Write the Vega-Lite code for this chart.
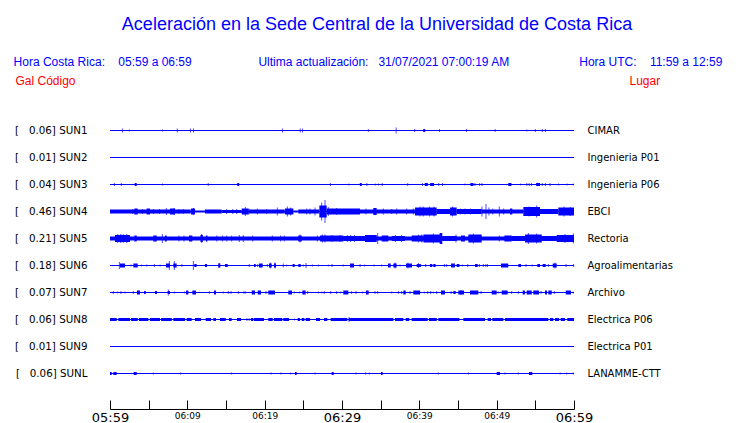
{
  "$schema": "https://vega.github.io/schema/vega-lite/v6.json",
  "width": 464,
  "height": 270,
  "autosize": "none",
  "padding": {"left": 110, "top": 117, "right": 166, "bottom": 36},
  "background": "white",
  "config": {"view": {"stroke": null}},
  "title": {
    "text": "Aceleración en la Sede Central de la Universidad de Costa Rica",
    "subtitle": "Hora Costa Rica:\u00a0\u00a0\u00a0\u00a005:59 a 06:59\u00a0\u00a0\u00a0\u00a0\u00a0\u00a0\u00a0\u00a0\u00a0\u00a0\u00a0\u00a0\u00a0\u00a0\u00a0\u00a0\u00a0\u00a0\u00a0\u00a0Ultima actualización:\u00a0\u00a0\u00a031/07/2021 07:00:19 AM\u00a0\u00a0\u00a0\u00a0\u00a0\u00a0\u00a0\u00a0\u00a0\u00a0\u00a0\u00a0\u00a0\u00a0\u00a0\u00a0\u00a0\u00a0\u00a0\u00a0\u00a0Hora UTC:\u00a0\u00a0\u00a0\u00a011:59 a 12:59\u2800\u2800",
    "anchor": "middle",
    "frame": "group",
    "dx": 35,
    "font": "Liberation Sans",
    "fontSize": 18,
    "fontWeight": "normal",
    "color": "#0000ff",
    "subtitleFont": "Liberation Sans",
    "subtitleFontSize": 12,
    "subtitleColor": "#0000ff",
    "subtitlePadding": 23,
    "offset": 6
  },
  "datasets": {
    "stations": [
      {"s": "SUN1", "gal": 0.06, "lugar": "CIMAR"},
      {"s": "SUN2", "gal": 0.01, "lugar": "Ingenieria P01"},
      {"s": "SUN3", "gal": 0.04, "lugar": "Ingenieria P06"},
      {"s": "SUN4", "gal": 0.46, "lugar": "EBCI"},
      {"s": "SUN5", "gal": 0.21, "lugar": "Rectoria"},
      {"s": "SUN6", "gal": 0.18, "lugar": "Agroalimentarias"},
      {"s": "SUN7", "gal": 0.07, "lugar": "Archivo"},
      {"s": "SUN8", "gal": 0.06, "lugar": "Electrica P06"},
      {"s": "SUN9", "gal": 0.01, "lugar": "Electrica P01"},
      {"s": "SUNL", "gal": 0.06, "lugar": "LANAMME-CTT"}
    ],
    "bursts": [
      {"s":"SUN1","t0":40.5,"t1":40.75,"amp":3},
      {"s":"SUN3","t0":3.2,"t1":3.45,"amp":3},{"s":"SUN3","t0":16.45,"t1":16.7,"amp":3},{"s":"SUN3","t0":32.3,"t1":32.55,"amp":3},{"s":"SUN3","t0":40.7,"t1":41.1,"amp":3},{"s":"SUN3","t0":41.4,"t1":41.9,"amp":3},{"s":"SUN3","t0":46.6,"t1":47.0,"amp":3},{"s":"SUN3","t0":51.5,"t1":51.9,"amp":3},{"s":"SUN3","t0":55.1,"t1":55.6,"amp":3},
      {"s":"SUN4","t0":0,"t1":10.45,"amp":4},{"s":"SUN4","t0":3.15,"t1":3.58,"amp":6},{"s":"SUN4","t0":4.74,"t1":5.17,"amp":6},{"s":"SUN4","t0":7.76,"t1":8.4,"amp":6},{"s":"SUN4","t0":10.48,"t1":10.99,"amp":6},{"s":"SUN4","t0":10.99,"t1":12.28,"amp":2},{"s":"SUN4","t0":12.28,"t1":14.44,"amp":4},{"s":"SUN4","t0":14.44,"t1":17.03,"amp":3},{"s":"SUN4","t0":17.03,"t1":17.89,"amp":6},{"s":"SUN4","t0":17.89,"t1":22.6,"amp":4},{"s":"SUN4","t0":22.63,"t1":23.71,"amp":6},{"s":"SUN4","t0":23.71,"t1":24.35,"amp":2},{"s":"SUN4","t0":24.35,"t1":27.07,"amp":4},{"s":"SUN4","t0":27.07,"t1":28.02,"amp":12},{"s":"SUN4","t0":28.02,"t1":32.33,"amp":6},{"s":"SUN4","t0":32.33,"t1":39.44,"amp":4},{"s":"SUN4","t0":34.05,"t1":34.48,"amp":7},{"s":"SUN4","t0":39.44,"t1":42.25,"amp":8},{"s":"SUN4","t0":42.25,"t1":43.97,"amp":5},{"s":"SUN4","t0":43.97,"t1":44.83,"amp":8},{"s":"SUN4","t0":44.83,"t1":48.06,"amp":5},{"s":"SUN4","t0":48.06,"t1":53.45,"amp":4},{"s":"SUN4","t0":51.72,"t1":52.02,"amp":6},{"s":"SUN4","t0":53.45,"t1":55.6,"amp":9},{"s":"SUN4","t0":55.6,"t1":57.97,"amp":5},{"s":"SUN4","t0":57.97,"t1":60,"amp":8},
      {"s":"SUN5","t0":0,"t1":60,"amp":4},{"s":"SUN5","t0":0.65,"t1":2.59,"amp":7},{"s":"SUN5","t0":3.15,"t1":3.45,"amp":6},{"s":"SUN5","t0":5.6,"t1":6.04,"amp":6},{"s":"SUN5","t0":7.11,"t1":7.33,"amp":6},{"s":"SUN5","t0":10.22,"t1":10.65,"amp":6},{"s":"SUN5","t0":11.7,"t1":12.0,"amp":7},{"s":"SUN5","t0":12.4,"t1":12.6,"amp":6},{"s":"SUN5","t0":24.35,"t1":24.79,"amp":6},{"s":"SUN5","t0":27.16,"t1":30.17,"amp":6},{"s":"SUN5","t0":30.17,"t1":32.97,"amp":5},{"s":"SUN5","t0":32.97,"t1":34.49,"amp":7},{"s":"SUN5","t0":35.13,"t1":35.99,"amp":6},{"s":"SUN5","t0":36.43,"t1":38.15,"amp":5},{"s":"SUN5","t0":39.01,"t1":40.52,"amp":6},{"s":"SUN5","t0":40.52,"t1":42.67,"amp":8},{"s":"SUN5","t0":42.63,"t1":42.97,"amp":11},{"s":"SUN5","t0":42.97,"t1":44.83,"amp":5},{"s":"SUN5","t0":45.39,"t1":45.9,"amp":6},{"s":"SUN5","t0":46.34,"t1":48.06,"amp":8},{"s":"SUN5","t0":51.0,"t1":51.94,"amp":6},{"s":"SUN5","t0":51.94,"t1":53.67,"amp":5},{"s":"SUN5","t0":53.67,"t1":55.83,"amp":8},{"s":"SUN5","t0":55.83,"t1":57.76,"amp":5},{"s":"SUN5","t0":57.76,"t1":60,"amp":7},
      {"s":"SUN6","t0":1.29,"t1":1.94,"amp":4},{"s":"SUN6","t0":3.02,"t1":3.58,"amp":4},{"s":"SUN6","t0":7.24,"t1":7.76,"amp":4},{"s":"SUN6","t0":8.19,"t1":8.62,"amp":4},{"s":"SUN6","t0":9.2,"t1":9.37,"amp":2},{"s":"SUN6","t0":10.9,"t1":11.2,"amp":3},{"s":"SUN6","t0":12.28,"t1":12.54,"amp":3},{"s":"SUN6","t0":14.0,"t1":14.27,"amp":4},{"s":"SUN6","t0":14.87,"t1":15.22,"amp":3},{"s":"SUN6","t0":18.62,"t1":18.84,"amp":3},{"s":"SUN6","t0":19.27,"t1":19.74,"amp":4},{"s":"SUN6","t0":20.56,"t1":20.91,"amp":4},{"s":"SUN6","t0":21.2,"t1":21.47,"amp":4},{"s":"SUN6","t0":23.62,"t1":23.88,"amp":3},{"s":"SUN6","t0":24.35,"t1":24.66,"amp":3},{"s":"SUN6","t0":31.04,"t1":31.55,"amp":4},{"s":"SUN6","t0":35.95,"t1":36.3,"amp":4},{"s":"SUN6","t0":36.64,"t1":37.07,"amp":4},{"s":"SUN6","t0":38.28,"t1":39.05,"amp":4},{"s":"SUN6","t0":39.66,"t1":40.2,"amp":3},{"s":"SUN6","t0":41.38,"t1":41.68,"amp":3},{"s":"SUN6","t0":41.8,"t1":42.1,"amp":3},{"s":"SUN6","t0":44.1,"t1":44.6,"amp":4},{"s":"SUN6","t0":44.83,"t1":45.18,"amp":3},{"s":"SUN6","t0":47.2,"t1":47.55,"amp":3},{"s":"SUN6","t0":50.56,"t1":51.5,"amp":4},{"s":"SUN6","t0":52.8,"t1":53.15,"amp":3},{"s":"SUN6","t0":55.26,"t1":55.6,"amp":3},{"s":"SUN6","t0":55.95,"t1":56.34,"amp":3},{"s":"SUN6","t0":57.25,"t1":57.76,"amp":4},
      {"s":"SUN7","t0":3.49,"t1":3.88,"amp":4},{"s":"SUN7","t0":4.4,"t1":4.62,"amp":3},{"s":"SUN7","t0":5.82,"t1":6.08,"amp":3},{"s":"SUN7","t0":7.46,"t1":7.76,"amp":3},{"s":"SUN7","t0":9.83,"t1":10.13,"amp":4},{"s":"SUN7","t0":10.65,"t1":11.12,"amp":4},{"s":"SUN7","t0":13.45,"t1":13.71,"amp":4},{"s":"SUN7","t0":18.32,"t1":18.75,"amp":4},{"s":"SUN7","t0":19.1,"t1":19.53,"amp":4},{"s":"SUN7","t0":20.47,"t1":21.34,"amp":4},{"s":"SUN7","t0":23.06,"t1":23.53,"amp":4},{"s":"SUN7","t0":24.87,"t1":25.3,"amp":4},{"s":"SUN7","t0":30.17,"t1":30.82,"amp":4},{"s":"SUN7","t0":33.1,"t1":33.45,"amp":4},{"s":"SUN7","t0":37.93,"t1":38.24,"amp":4},{"s":"SUN7","t0":39.22,"t1":40.1,"amp":4},{"s":"SUN7","t0":42.8,"t1":43.32,"amp":4},{"s":"SUN7","t0":44.4,"t1":44.7,"amp":3},{"s":"SUN7","t0":45.04,"t1":45.78,"amp":4},{"s":"SUN7","t0":46.55,"t1":47.63,"amp":4},{"s":"SUN7","t0":49.36,"t1":50.0,"amp":4},{"s":"SUN7","t0":50.65,"t1":51.42,"amp":4},{"s":"SUN7","t0":53.36,"t1":53.66,"amp":4},{"s":"SUN7","t0":53.88,"t1":54.53,"amp":4},{"s":"SUN7","t0":54.74,"t1":55.48,"amp":4},{"s":"SUN7","t0":56.25,"t1":56.51,"amp":4},{"s":"SUN7","t0":56.68,"t1":57.12,"amp":4},{"s":"SUN7","t0":58.93,"t1":59.61,"amp":4},
      {"s":"SUN8","t0":0,"t1":0.86,"amp":3},{"s":"SUN8","t0":1.08,"t1":2.59,"amp":3},{"s":"SUN8","t0":2.72,"t1":3.58,"amp":3},{"s":"SUN8","t0":3.75,"t1":4.96,"amp":3},{"s":"SUN8","t0":5.17,"t1":6.47,"amp":3},{"s":"SUN8","t0":6.6,"t1":7.98,"amp":3},{"s":"SUN8","t0":8.19,"t1":9.7,"amp":3},{"s":"SUN8","t0":9.91,"t1":10.56,"amp":3},{"s":"SUN8","t0":10.99,"t1":11.77,"amp":3},{"s":"SUN8","t0":12.37,"t1":13.06,"amp":3},{"s":"SUN8","t0":13.36,"t1":13.71,"amp":3},{"s":"SUN8","t0":14.22,"t1":14.96,"amp":3},{"s":"SUN8","t0":15.39,"t1":15.73,"amp":3},{"s":"SUN8","t0":16.42,"t1":16.94,"amp":3},{"s":"SUN8","t0":18.23,"t1":18.53,"amp":3},{"s":"SUN8","t0":18.62,"t1":19.91,"amp":3},{"s":"SUN8","t0":20.47,"t1":21.04,"amp":3},{"s":"SUN8","t0":21.2,"t1":22.28,"amp":3},{"s":"SUN8","t0":22.41,"t1":23.15,"amp":3},{"s":"SUN8","t0":24.27,"t1":24.57,"amp":3},{"s":"SUN8","t0":24.79,"t1":25.13,"amp":3},{"s":"SUN8","t0":25.3,"t1":25.86,"amp":3},{"s":"SUN8","t0":26.64,"t1":27.16,"amp":3},{"s":"SUN8","t0":27.67,"t1":28.1,"amp":3},{"s":"SUN8","t0":28.54,"t1":30.69,"amp":3},{"s":"SUN8","t0":30.9,"t1":36.64,"amp":3},{"s":"SUN8","t0":36.86,"t1":37.93,"amp":3},{"s":"SUN8","t0":38.24,"t1":38.7,"amp":3},{"s":"SUN8","t0":39.01,"t1":41.08,"amp":3},{"s":"SUN8","t0":41.25,"t1":42.25,"amp":3},{"s":"SUN8","t0":42.46,"t1":45.18,"amp":3},{"s":"SUN8","t0":45.69,"t1":48.49,"amp":3},{"s":"SUN8","t0":48.84,"t1":49.27,"amp":3},{"s":"SUN8","t0":49.44,"t1":50.86,"amp":3},{"s":"SUN8","t0":51.08,"t1":56.68,"amp":3},{"s":"SUN8","t0":56.9,"t1":57.33,"amp":3},{"s":"SUN8","t0":57.55,"t1":58.07,"amp":3},{"s":"SUN8","t0":58.28,"t1":58.84,"amp":3},{"s":"SUN8","t0":59.14,"t1":60,"amp":3},
      {"s":"SUNL","t0":0,"t1":0.22,"amp":3},{"s":"SUNL","t0":0.43,"t1":0.86,"amp":3},{"s":"SUNL","t0":3.06,"t1":3.45,"amp":3},{"s":"SUNL","t0":23.92,"t1":24.14,"amp":3},{"s":"SUNL","t0":28.67,"t1":28.93,"amp":3},{"s":"SUNL","t0":35.04,"t1":35.26,"amp":3},{"s":"SUNL","t0":50.0,"t1":50.43,"amp":3},{"s":"SUNL","t0":54.18,"t1":54.61,"amp":3}
    ],
    "spikes": [
      {"s":"SUN1","t":1.6,"amp":4},{"s":"SUN1","t":2.5,"amp":2},{"s":"SUN1","t":6.8,"amp":2},{"s":"SUN1","t":8.7,"amp":4},{"s":"SUN1","t":10.4,"amp":4},{"s":"SUN1","t":10.8,"amp":4},{"s":"SUN1","t":22.3,"amp":4},{"s":"SUN1","t":24.6,"amp":4},{"s":"SUN1","t":24.9,"amp":4},{"s":"SUN1","t":33.4,"amp":3},{"s":"SUN1","t":37.0,"amp":6},{"s":"SUN1","t":39.4,"amp":3},{"s":"SUN1","t":42.6,"amp":3},{"s":"SUN1","t":46.1,"amp":3},{"s":"SUN1","t":49.8,"amp":3},{"s":"SUN1","t":53.9,"amp":2},{"s":"SUN1","t":55.0,"amp":3},{"s":"SUN1","t":55.9,"amp":3},{"s":"SUN1","t":56.3,"amp":3},
      {"s":"SUN3","t":0.56,"amp":3},{"s":"SUN3","t":1.46,"amp":3},{"s":"SUN3","t":6.8,"amp":2},{"s":"SUN3","t":12.7,"amp":3},{"s":"SUN3","t":28.5,"amp":3},{"s":"SUN3","t":30.9,"amp":2},{"s":"SUN3","t":33.2,"amp":3},{"s":"SUN3","t":34.3,"amp":2},{"s":"SUN3","t":34.7,"amp":2},{"s":"SUN3","t":35.2,"amp":3},{"s":"SUN3","t":38.5,"amp":3},{"s":"SUN3","t":40.4,"amp":3},{"s":"SUN3","t":42.5,"amp":3},{"s":"SUN3","t":43.0,"amp":3},{"s":"SUN3","t":45.9,"amp":2},{"s":"SUN3","t":47.2,"amp":3},{"s":"SUN3","t":47.8,"amp":3},{"s":"SUN3","t":48.1,"amp":3},{"s":"SUN3","t":53.1,"amp":2},{"s":"SUN3","t":53.9,"amp":3},{"s":"SUN3","t":54.2,"amp":3},{"s":"SUN3","t":54.5,"amp":3},{"s":"SUN3","t":55.9,"amp":3},{"s":"SUN3","t":56.3,"amp":3},{"s":"SUN3","t":56.9,"amp":3},{"s":"SUN3","t":58.0,"amp":2},{"s":"SUN3","t":59.1,"amp":2},{"s":"SUN3","t":59.9,"amp":2},
      {"s":"SUN4","t":2.93,"amp":5},{"s":"SUN4","t":4.18,"amp":5},{"s":"SUN4","t":5.6,"amp":5},{"s":"SUN4","t":6.38,"amp":5},{"s":"SUN4","t":7.29,"amp":7},{"s":"SUN4","t":8.32,"amp":7},{"s":"SUN4","t":8.92,"amp":5},{"s":"SUN4","t":9.48,"amp":5},{"s":"SUN4","t":10.78,"amp":7},{"s":"SUN4","t":15.09,"amp":5},{"s":"SUN4","t":15.87,"amp":5},{"s":"SUN4","t":16.38,"amp":5},{"s":"SUN4","t":17.5,"amp":9},{"s":"SUN4","t":17.94,"amp":6},{"s":"SUN4","t":19.05,"amp":6},{"s":"SUN4","t":20.26,"amp":5},{"s":"SUN4","t":21.63,"amp":8},{"s":"SUN4","t":22.93,"amp":10},{"s":"SUN4","t":23.37,"amp":8},{"s":"SUN4","t":25.44,"amp":6},{"s":"SUN4","t":25.86,"amp":6},{"s":"SUN4","t":26.51,"amp":8},{"s":"SUN4","t":27.37,"amp":18},{"s":"SUN4","t":27.8,"amp":23},{"s":"SUN4","t":28.23,"amp":9},{"s":"SUN4","t":29.31,"amp":7},{"s":"SUN4","t":33.1,"amp":6},{"s":"SUN4","t":35.35,"amp":6},{"s":"SUN4","t":36.43,"amp":5},{"s":"SUN4","t":37.07,"amp":6},{"s":"SUN4","t":38.36,"amp":6},{"s":"SUN4","t":39.22,"amp":6},{"s":"SUN4","t":39.87,"amp":6},{"s":"SUN4","t":40.1,"amp":10},{"s":"SUN4","t":40.5,"amp":10},{"s":"SUN4","t":41.3,"amp":10},{"s":"SUN4","t":41.9,"amp":10},{"s":"SUN4","t":44.3,"amp":10},{"s":"SUN4","t":45.3,"amp":6},{"s":"SUN4","t":45.9,"amp":6},{"s":"SUN4","t":46.6,"amp":6},{"s":"SUN4","t":48.1,"amp":10},{"s":"SUN4","t":48.62,"amp":15},{"s":"SUN4","t":49.0,"amp":8},{"s":"SUN4","t":49.5,"amp":6},{"s":"SUN4","t":50.34,"amp":10},{"s":"SUN4","t":50.9,"amp":6},{"s":"SUN4","t":54.2,"amp":10},{"s":"SUN4","t":55.17,"amp":12},{"s":"SUN4","t":58.7,"amp":10},{"s":"SUN4","t":59.5,"amp":9},
      {"s":"SUN5","t":1.0,"amp":9},{"s":"SUN5","t":1.38,"amp":9},{"s":"SUN5","t":1.72,"amp":9},{"s":"SUN5","t":2.16,"amp":9},{"s":"SUN5","t":6.77,"amp":9},{"s":"SUN5","t":8.92,"amp":6},{"s":"SUN5","t":9.57,"amp":6},{"s":"SUN5","t":11.86,"amp":9},{"s":"SUN5","t":13.8,"amp":6},{"s":"SUN5","t":14.53,"amp":6},{"s":"SUN5","t":15.09,"amp":6},{"s":"SUN5","t":15.73,"amp":6},{"s":"SUN5","t":16.72,"amp":7},{"s":"SUN5","t":17.24,"amp":7},{"s":"SUN5","t":18.45,"amp":6},{"s":"SUN5","t":20.99,"amp":6},{"s":"SUN5","t":22.07,"amp":6},{"s":"SUN5","t":22.54,"amp":6},{"s":"SUN5","t":24.57,"amp":8},{"s":"SUN5","t":26.81,"amp":6},{"s":"SUN5","t":27.46,"amp":8},{"s":"SUN5","t":27.8,"amp":8},{"s":"SUN5","t":28.67,"amp":7},{"s":"SUN5","t":29.74,"amp":7},{"s":"SUN5","t":30.69,"amp":7},{"s":"SUN5","t":31.12,"amp":7},{"s":"SUN5","t":31.6,"amp":7},{"s":"SUN5","t":34.61,"amp":11},{"s":"SUN5","t":36.9,"amp":7},{"s":"SUN5","t":37.7,"amp":7},{"s":"SUN5","t":39.87,"amp":8},{"s":"SUN5","t":40.3,"amp":8},{"s":"SUN5","t":41.81,"amp":10},{"s":"SUN5","t":44.74,"amp":8},{"s":"SUN5","t":46.98,"amp":10},{"s":"SUN5","t":50.34,"amp":6},{"s":"SUN5","t":54.1,"amp":11},{"s":"SUN5","t":55.17,"amp":10},{"s":"SUN5","t":58.84,"amp":9},{"s":"SUN5","t":59.91,"amp":10},
      {"s":"SUN6","t":1.21,"amp":7},{"s":"SUN6","t":2.72,"amp":2},{"s":"SUN6","t":4.09,"amp":2},{"s":"SUN6","t":4.74,"amp":2},{"s":"SUN6","t":5.73,"amp":3},{"s":"SUN6","t":6.47,"amp":2},{"s":"SUN6","t":7.67,"amp":9},{"s":"SUN6","t":8.32,"amp":9},{"s":"SUN6","t":10.78,"amp":9},{"s":"SUN6","t":14.1,"amp":5},{"s":"SUN6","t":18.0,"amp":3},{"s":"SUN6","t":19.1,"amp":3},{"s":"SUN6","t":20.35,"amp":3},{"s":"SUN6","t":20.73,"amp":6},{"s":"SUN6","t":21.34,"amp":6},{"s":"SUN6","t":22.41,"amp":4},{"s":"SUN6","t":22.85,"amp":2},{"s":"SUN6","t":25.0,"amp":2},{"s":"SUN6","t":25.35,"amp":5},{"s":"SUN6","t":26.16,"amp":2},{"s":"SUN6","t":26.94,"amp":2},{"s":"SUN6","t":28.23,"amp":2},{"s":"SUN6","t":28.71,"amp":3},{"s":"SUN6","t":30.17,"amp":2},{"s":"SUN6","t":32.33,"amp":3},{"s":"SUN6","t":32.93,"amp":2},{"s":"SUN6","t":34.14,"amp":2},{"s":"SUN6","t":35.13,"amp":2},{"s":"SUN6","t":36.86,"amp":6},{"s":"SUN6","t":37.5,"amp":2},{"s":"SUN6","t":38.53,"amp":6},{"s":"SUN6","t":39.9,"amp":5},{"s":"SUN6","t":40.82,"amp":3},{"s":"SUN6","t":43.24,"amp":3},{"s":"SUN6","t":43.54,"amp":3},{"s":"SUN6","t":45.57,"amp":2},{"s":"SUN6","t":46.26,"amp":3},{"s":"SUN6","t":47.76,"amp":3},{"s":"SUN6","t":48.28,"amp":3},{"s":"SUN6","t":48.59,"amp":3},{"s":"SUN6","t":48.8,"amp":3},{"s":"SUN6","t":53.8,"amp":3},{"s":"SUN6","t":54.61,"amp":2},{"s":"SUN6","t":56.68,"amp":3},{"s":"SUN6","t":57.55,"amp":6},{"s":"SUN6","t":58.97,"amp":3},{"s":"SUN6","t":59.95,"amp":3},
      {"s":"SUN7","t":0.43,"amp":3},{"s":"SUN7","t":0.95,"amp":2},{"s":"SUN7","t":1.42,"amp":3},{"s":"SUN7","t":1.94,"amp":2},{"s":"SUN7","t":3.02,"amp":3},{"s":"SUN7","t":7.54,"amp":6},{"s":"SUN7","t":8.32,"amp":2},{"s":"SUN7","t":9.61,"amp":2},{"s":"SUN7","t":12.84,"amp":3},{"s":"SUN7","t":14.66,"amp":2},{"s":"SUN7","t":15.3,"amp":3},{"s":"SUN7","t":15.65,"amp":3},{"s":"SUN7","t":16.6,"amp":3},{"s":"SUN7","t":17.24,"amp":2},{"s":"SUN7","t":17.46,"amp":3},{"s":"SUN7","t":20.17,"amp":3},{"s":"SUN7","t":23.84,"amp":2},{"s":"SUN7","t":24.48,"amp":2},{"s":"SUN7","t":25.56,"amp":3},{"s":"SUN7","t":26.94,"amp":2},{"s":"SUN7","t":27.37,"amp":2},{"s":"SUN7","t":27.71,"amp":3},{"s":"SUN7","t":28.54,"amp":3},{"s":"SUN7","t":29.31,"amp":3},{"s":"SUN7","t":29.83,"amp":2},{"s":"SUN7","t":31.25,"amp":3},{"s":"SUN7","t":31.81,"amp":3},{"s":"SUN7","t":32.63,"amp":2},{"s":"SUN7","t":34.27,"amp":3},{"s":"SUN7","t":34.61,"amp":3},{"s":"SUN7","t":36.43,"amp":2},{"s":"SUN7","t":37.29,"amp":3},{"s":"SUN7","t":37.72,"amp":3},{"s":"SUN7","t":38.8,"amp":3},{"s":"SUN7","t":40.65,"amp":2},{"s":"SUN7","t":41.08,"amp":3},{"s":"SUN7","t":41.47,"amp":3},{"s":"SUN7","t":41.81,"amp":2},{"s":"SUN7","t":42.25,"amp":3},{"s":"SUN7","t":44.1,"amp":3},{"s":"SUN7","t":45.39,"amp":5},{"s":"SUN7","t":47.98,"amp":3},{"s":"SUN7","t":50.21,"amp":2},{"s":"SUN7","t":51.94,"amp":3},{"s":"SUN7","t":52.8,"amp":3},{"s":"SUN7","t":55.74,"amp":3},{"s":"SUN7","t":57.46,"amp":3},{"s":"SUN7","t":59.91,"amp":2},
      {"s":"SUN8","t":17.7,"amp":3},{"s":"SUN8","t":18.0,"amp":3},{"s":"SUN8","t":23.84,"amp":2},{"s":"SUN8","t":30.9,"amp":5},
      {"s":"SUNL","t":5.6,"amp":2},{"s":"SUNL","t":9.14,"amp":2},{"s":"SUNL","t":15.73,"amp":2},{"s":"SUNL","t":20.82,"amp":2},{"s":"SUNL","t":22.11,"amp":2},{"s":"SUNL","t":23.32,"amp":2},{"s":"SUNL","t":26.51,"amp":2},{"s":"SUNL","t":31.81,"amp":2},{"s":"SUNL","t":33.06,"amp":2},{"s":"SUNL","t":33.53,"amp":2},{"s":"SUNL","t":42.46,"amp":2},{"s":"SUNL","t":46.34,"amp":2},{"s":"SUNL","t":51.08,"amp":2},{"s":"SUNL","t":52.8,"amp":2},{"s":"SUNL","t":58.19,"amp":2},{"s":"SUNL","t":59.05,"amp":2},{"s":"SUNL","t":59.91,"amp":2}
    ]
  },
  "resolve": {"axis": {"y": "independent"}},
  "layer": [
    {
      "data": {"name": "stations"},
      "mark": {"type": "bar", "color": "#0000ff"},
      "encoding": {
        "x": {"datum": 0, "type": "quantitative",
          "scale": {"domain": [0, 60], "nice": false, "zero": false},
          "axis": {
            "values": [0,5,10,15,20,25,30,35,40,45,50,55,60],
            "labelExpr": "datum.value % 10 != 0 ? '' : format(floor((359 + datum.value) / 60), '02d') + ':' + format((359 + datum.value) % 60, '02d')",
            "labelFontSize": {"condition": {"test": "datum.value % 30 == 0", "value": 13}, "value": 9},
            "labelFont": "DejaVu Sans", "labelColor": "black", "labelPadding": 11,
            "labelFlush": false, "labelOverlap": false,
            "offset": 22, "tickSize": -9, "tickColor": "black", "domainColor": "black", "domainWidth": 1,
            "grid": false, "title": null
          }
        },
        "x2": {"datum": 60},
        "y": {"field": "s", "type": "nominal",
          "scale": {"type": "band", "paddingInner": 0, "paddingOuter": 0,
            "domain": ["SUN1","SUN2","SUN3","SUN4","SUN5","SUN6","SUN7","SUN8","SUN9","SUNL"]},
          "axis": {
            "orient": "left",
            "domain": false, "ticks": false, "grid": false,
            "labelExpr": "'[\u00a0\u00a0\u00a0' + ['0.06','0.01','0.04','0.46','0.21','0.18','0.07','0.06','0.01','0.06'][indexof(['SUN1','SUN2','SUN3','SUN4','SUN5','SUN6','SUN7','SUN8','SUN9','SUNL'], datum.value)] + '] ' + datum.value",
            "labelFont": "DejaVu Sans", "labelFontSize": 10.3, "labelColor": "black",
            "labelPadding": 23,
            "title": "Gal\u00a0Código",
            "titleColor": "#ff0000", "titleFont": "Liberation Sans", "titleFontSize": 12, "titleFontWeight": "normal",
            "titleAngle": 0, "titleAlign": "left", "titleBaseline": "middle",
            "titleX": -95, "titleY": -37
          }
        },
        "size": {"value": 1}
      }
    },
    {
      "data": {"name": "bursts"},
      "mark": {"type": "bar", "color": "#0000ff"},
      "encoding": {
        "x": {"field": "t0", "type": "quantitative",
          "axis": {
            "values": [0,5,10,15,20,25,30,35,40,45,50,55,60],
            "labelExpr": "datum.value % 10 != 0 ? '' : format(floor((359 + datum.value) / 60), '02d') + ':' + format((359 + datum.value) % 60, '02d')",
            "labelFontSize": {"condition": {"test": "datum.value % 30 == 0", "value": 13}, "value": 9},
            "labelFont": "DejaVu Sans", "labelColor": "black", "labelPadding": 11,
            "labelFlush": false, "labelOverlap": false,
            "offset": 22, "tickSize": -9, "tickColor": "black", "domainColor": "black", "domainWidth": 1,
            "grid": false, "title": null
          }
        },
        "x2": {"field": "t1"},
        "y": {"field": "s", "type": "nominal",
          "axis": {
            "orient": "right",
            "domain": false, "ticks": false, "grid": false,
            "labelExpr": "['CIMAR','Ingenieria P01','Ingenieria P06','EBCI','Rectoria','Agroalimentarias','Archivo','Electrica P06','Electrica P01','LANAMME-CTT'][indexof(['SUN1','SUN2','SUN3','SUN4','SUN5','SUN6','SUN7','SUN8','SUN9','SUNL'], datum.value)]",
            "labelFont": "DejaVu Sans", "labelFontSize": 10, "labelColor": "black",
            "labelPadding": 13,
            "title": "Lugar",
            "titleColor": "#ff0000", "titleFont": "Liberation Sans", "titleFontSize": 12, "titleFontWeight": "normal",
            "titleAngle": 0, "titleAlign": "left", "titleBaseline": "middle",
            "titleX": 55, "titleY": -37
          }
        },
        "size": {"field": "amp", "type": "quantitative", "scale": {"domain": [0, 24], "range": [0, 24]}, "legend": null}
      }
    },
    {
      "data": {"name": "spikes"},
      "mark": {"type": "tick", "color": "#0000ff", "thickness": 1, "orient": "vertical"},
      "encoding": {
        "x": {"field": "t", "type": "quantitative",
          "axis": {
            "values": [0,5,10,15,20,25,30,35,40,45,50,55,60],
            "labelExpr": "datum.value % 10 != 0 ? '' : format(floor((359 + datum.value) / 60), '02d') + ':' + format((359 + datum.value) % 60, '02d')",
            "labelFontSize": {"condition": {"test": "datum.value % 30 == 0", "value": 13}, "value": 9},
            "labelFont": "DejaVu Sans", "labelColor": "black", "labelPadding": 11,
            "labelFlush": false, "labelOverlap": false,
            "offset": 22, "tickSize": -9, "tickColor": "black", "domainColor": "black", "domainWidth": 1,
            "grid": false, "title": null
          }
        },
        "y": {"field": "s", "type": "nominal", "axis": null},
        "size": {"field": "amp", "type": "quantitative", "legend": null}
      }
    }
  ]
}
